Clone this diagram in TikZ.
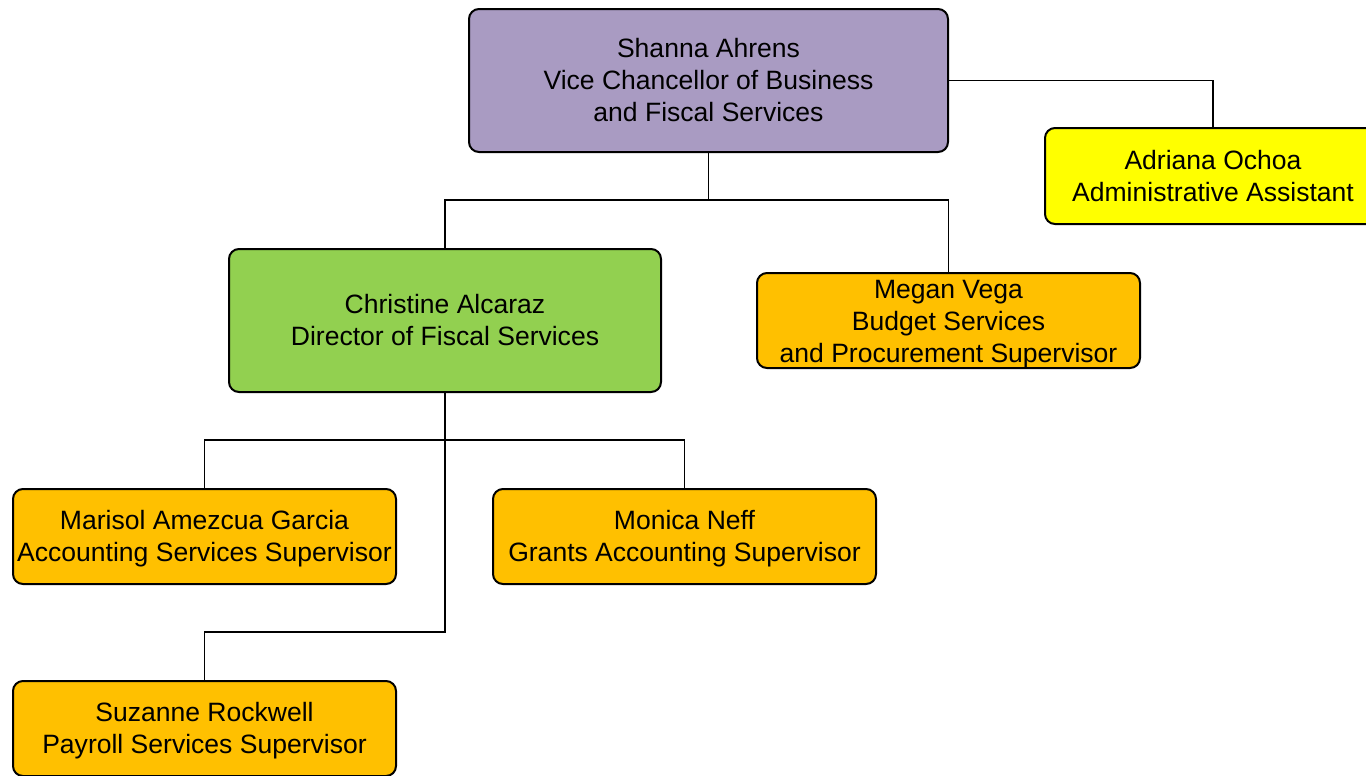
\documentclass[tikz,border=0pt]{standalone}
\usepackage{fontspec}
\setmainfont{Liberation Sans}
\definecolor{vcpurple}{HTML}{A99BC2}
\definecolor{dirgreen}{HTML}{92D050}
\definecolor{suporange}{HTML}{FFC000}
\definecolor{asstyellow}{HTML}{FFFF00}
\newcommand{\lowstrut}[1]{\rule{0pt}{#1}}
\begin{document}
\begin{tikzpicture}[x=0.75pt,y=-0.75pt,
  box/.style={draw=black, line width=1.5pt, rounded corners=7.5pt, inner sep=0pt,
    align=center, font=\fontsize{19.9}{24}\selectfont},
  conn/.style={draw=black, line width=1.1pt}]
\useasboundingbox (0,0) rectangle (1366,775);
\clip (0,0) rectangle (1366,775);
\node[box, fill=vcpurple, minimum width={479*0.75pt}, minimum height={143*0.75pt}] (shanna) at (708.5,80.5)
  {Shanna Ahrens\\Vice Chancellor of Business\\and Fiscal Services};
\node[box, fill=asstyellow, minimum width={336*0.75pt}, minimum height={96*0.75pt}] (adriana) at (1213,176)
  {Adriana Ochoa\\Administrative Assistant};
\node[box, fill=dirgreen, minimum width={432*0.75pt}, minimum height={143*0.75pt}] (christine) at (445,320.5)
  {Christine Alcaraz\\Director of Fiscal Services};
\node[box, fill=suporange, minimum width={383*0.75pt}, minimum height={95*0.75pt}] (megan) at (948.5,320.5)
  {\lowstrut{18.5pt}Megan Vega\\Budget Services\\and Procurement Supervisor};
\node[box, fill=suporange, minimum width={383*0.75pt}, minimum height={95*0.75pt}] (marisol) at (204.5,536.5)
  {\lowstrut{17.5pt}Marisol Amezcua Garcia\\Accounting Services Supervisor};
\node[box, fill=suporange, minimum width={383*0.75pt}, minimum height={95*0.75pt}] (monica) at (684.5,536.5)
  {\lowstrut{17.5pt}Monica Neff\\Grants Accounting Supervisor};
\node[box, fill=suporange, minimum width={383*0.75pt}, minimum height={95*0.75pt}] (suzanne) at (204.5,728.5)
  {\lowstrut{17.5pt}Suzanne Rockwell\\Payroll Services Supervisor};
\coordinate (j1) at (708.5,200);
\coordinate (j2) at (445,440);
\coordinate (j3) at (445,632);
\draw[conn] (shanna.east) -| (adriana.north);
\draw[conn] (shanna.south) -- (j1);
\draw[conn] (christine.north) |- (j1) -| (megan.north);
\draw[conn] (christine.south) -- (j3) -| (suzanne.north);
\draw[conn] (marisol.north) |- (j2) -| (monica.north);
\end{tikzpicture}
\end{document}
